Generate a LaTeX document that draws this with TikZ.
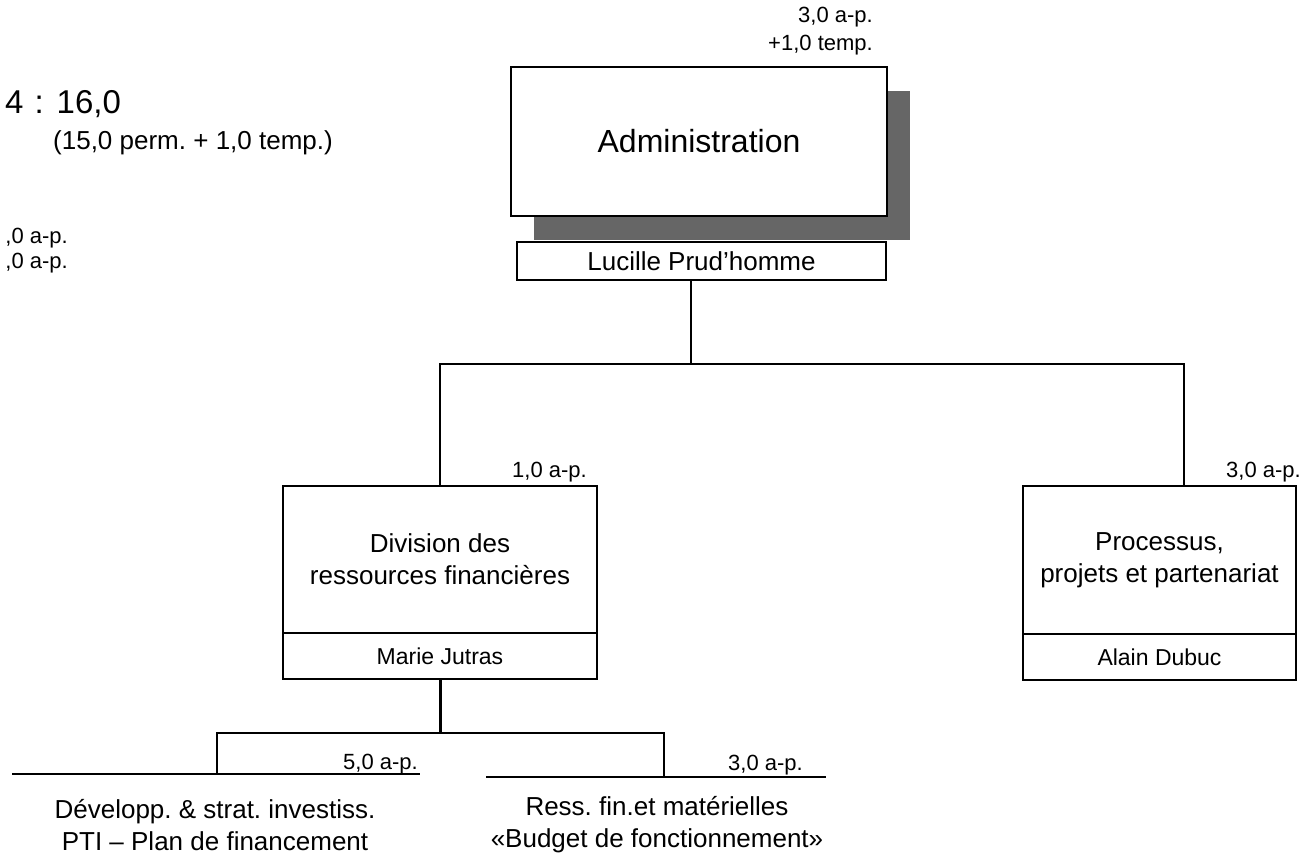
\documentclass[tikz,border=0pt]{standalone}
\usepackage{fontspec}
\setmainfont{Liberation Sans}
\usetikzlibrary{positioning, shadows}
\definecolor{shadowgray}{HTML}{666666}
\frenchspacing

\tikzset{
  unitbox/.style={draw, line width=1.7pt, fill=white, align=center, inner sep=0pt, outer sep=0pt,
                  font=\fontsize{26}{32}\selectfont},
  namebox/.style={draw, line width=1.7pt, fill=white, inner sep=0pt, outer sep=0pt, minimum height=46,
                   font=\fontsize{23}{25}\selectfont},
  aplabel/.style={anchor=base east, inner sep=0pt, font=\fontsize{22}{26}\selectfont},
  item/.style={align=center, inner sep=0pt, font=\fontsize{26}{32}\selectfont},
  link/.style={line width=1.6pt}
}

\begin{document}
\begin{tikzpicture}[x=1pt, y=-1pt]
\useasboundingbox (0,0) rectangle (1308,866);

% totals, top left
\node[anchor=base west, inner sep=0pt, font=\fontsize{33}{36}\selectfont] (total) at (5,114) {4\hspace{11pt}:\hspace{13pt}16,0};
\node[anchor=base west, inner sep=0pt, font=\fontsize{26}{28}\selectfont] (totaldetail) at (53,150) {(15,0 perm. + 1,0 temp.)};
\node[anchor=north east, align=right, inner sep=0pt, font=\fontsize{22}{25}\selectfont] (leftap) at (68,228) {,0 a-p.\\,0 a-p.};

% administration
\node[unitbox, minimum width=376, minimum height=149, font=\fontsize{32}{36}\selectfont,
      drop shadow={shadow xshift=23pt, shadow yshift=-24pt, fill=shadowgray, opacity=1}] (admin) at (699,141.5) {Administration};
\node[anchor=north east, align=right, inner sep=0pt, font=\fontsize{22}{28}\selectfont] (adminap) at (873,7) {3,0 a-p.\\+1,0 temp.};
\node[namebox, minimum width=369, minimum height=38, font=\fontsize{26}{28}\selectfont] (lucille) at (701.5,261) {Lucille Prud’homme};

% divisions
\node[unitbox, minimum width=314, minimum height=147] (div) at (440,559.5) {Division des\\ressources financières};
\node[namebox, minimum width=314, below=0pt of div] (divname) {Marie Jutras};
\node[aplabel] (divap) at (587,477) {1,0 a-p.};

\node[unitbox, minimum width=273, minimum height=148] (proc) at (1159.5,560) {Processus,\\projets et partenariat};
\node[namebox, minimum width=273, below=0pt of proc] (procname) {Alain Dubuc};
\node[aplabel] (procap) at (1301,477) {3,0 a-p.};

\coordinate (branch) at (691,364);
\coordinate (procjoin) at (1184,486);
\draw[link] (lucille.south -| branch) -- (branch);
\draw[link] (div.north) |- (procjoin |- branch) -- (procjoin);

% sections under the division
\coordinate (split) at (440,733);
\coordinate (devL) at (12,774);
\coordinate (devR) at (420,774);
\coordinate (devJ) at (217,774);
\coordinate (resL) at (486,777);
\coordinate (resR) at (826,777);
\coordinate (resJ) at (664,777);
\draw[link, line width=3pt] (divname.south) -- (split);
\draw[link] (devJ) |- (split) -| (resJ);
\draw[link] (devL) -- (devR);
\draw[link] (resL) -- (resR);

\node[aplabel] (devap) at (418,769) {5,0 a-p.};
\node[aplabel] (resap) at (803,770) {3,0 a-p.};
\node[item] (dev) at (215,825) {Développ. \& strat. investiss.\\PTI – Plan de financement};
\node[item] (res) at (657,825) {Ress. fin.et matérielles\\«Budget de fonctionnement»};
\end{tikzpicture}
\end{document}
